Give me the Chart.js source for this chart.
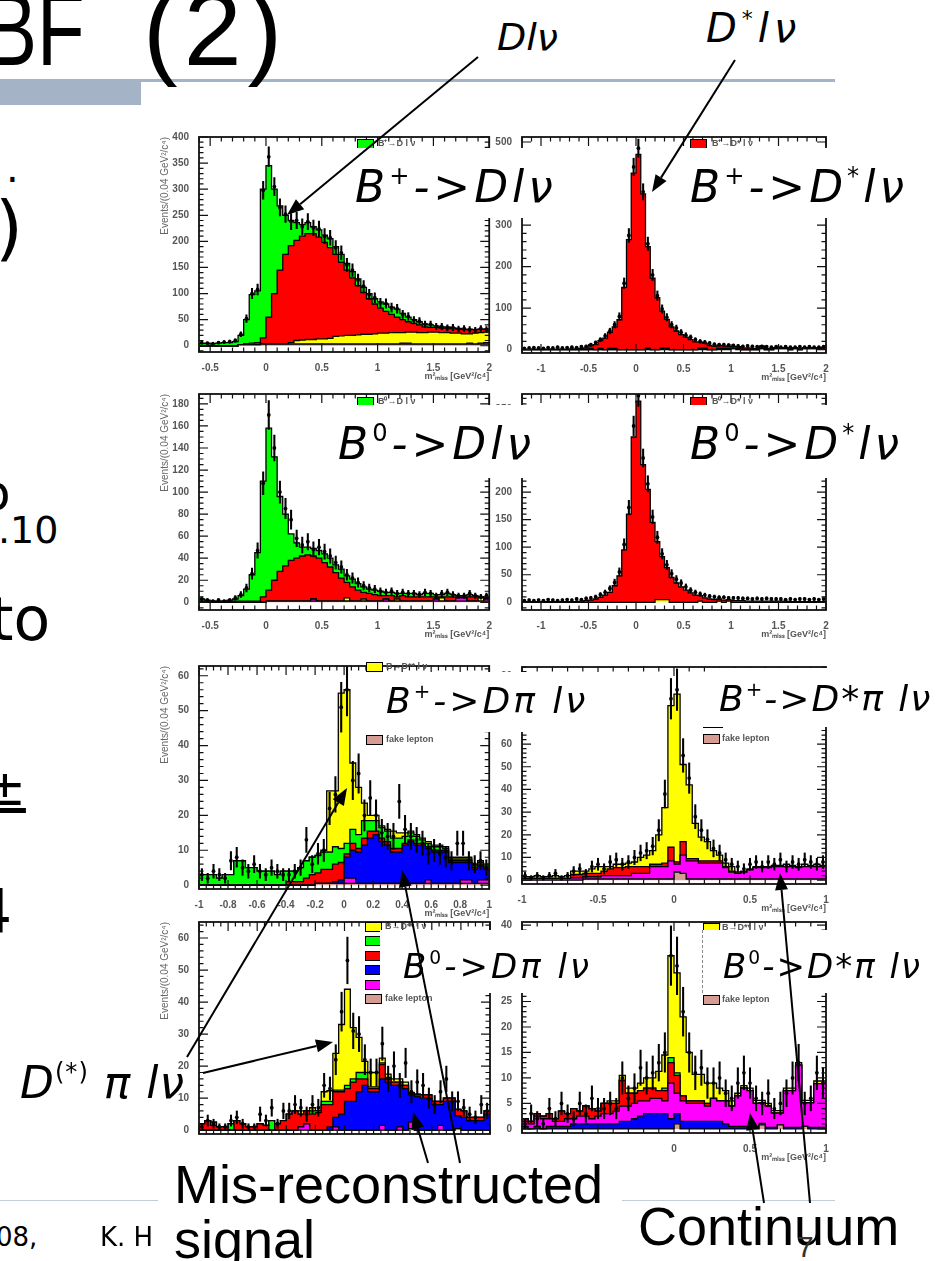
<!DOCTYPE html>
<html><head><meta charset="utf-8"><title>BF (2)</title>
<script src="https://cdn.jsdelivr.net/npm/chart.js@4.4.1/dist/chart.umd.min.js"></script>
<style>
html,body{margin:0;padding:0;background:#fff}
body{width:941px;height:1261px;position:relative;overflow:hidden}
canvas{position:absolute;z-index:1}
.t{position:absolute;white-space:nowrap;line-height:1;color:#000;font-family:"DejaVu Sans",sans-serif;z-index:4}
.box{position:absolute;background:#fff;z-index:3}
.big{position:absolute;white-space:nowrap;line-height:1;font-family:"DejaVu Sans",sans-serif;font-style:italic;color:#000;z-index:4}
.big sup{font-size:55%;font-style:normal;vertical-align:0;position:relative;top:-0.75em;line-height:0}
.sw{position:absolute;width:15px;height:8px;border:1px solid #000;z-index:2}
.lt{position:absolute;font:bold 9px "Liberation Sans",sans-serif;color:#555;white-space:nowrap;line-height:1;z-index:2}
.rule{position:absolute;background:#a4b3c5;z-index:0}
svg{position:absolute;left:0;top:0;z-index:6}
</style></head><body>

<div class="rule" style="left:140px;top:79px;width:695px;height:3px"></div>
<div class="rule" style="left:0;top:79px;width:141px;height:26px"></div>
<div class="rule" style="left:0;top:1200px;width:835px;height:1px;background:#c3ccd8"></div>

<div class="t" style="left:-15px;top:-23px;font-size:104px;font-family:'Liberation Sans';transform:scaleX(0.75);transform-origin:0 0">BF</div>
<div class="t" style="left:143px;top:-23px;font-size:104px;font-family:'Liberation Sans';letter-spacing:6px">(2)</div>

<div class="t" style="left:6px;top:148px;font-size:40px">.</div>
<div class="t" style="left:-5px;top:191px;font-size:72px">)</div>
<div class="t" style="left:-20px;top:468px;font-size:50px">o</div>
<div class="t" style="left:-2px;top:511px;font-size:38px">.10</div>
<div class="t" style="left:-10px;top:589px;font-size:60px">to</div>
<div class="t" style="left:-16px;top:763px;font-size:50px;text-decoration:underline">±</div>
<div class="t" style="left:-26px;top:881px;font-size:60px">4</div>
<div class="t" style="left:-4px;top:1224px;font-size:26px">08,</div>
<div class="t" style="left:100px;top:1224px;font-size:26px">K. H</div>

<div class="big" style="left:497px;top:18px;font-size:38px">Dlν</div>
<div class="big" style="left:706px;top:8px;font-size:40px;letter-spacing:5px">D<sup>*</sup>lν</div>

<script>
// ---------------- data ----------------
// bin centres of m²miss [GeV²/c⁴]
const mAC = binCenters(-0.6, 2.0, 52);   // panels a) c)
const mBD = binCenters(-1.2, 2.0, 64);   // panels b) d)
const mEH = binCenters(-1.0, 1.0, 50);   // panels e) f) g) h)

// a) B+ -> D l nu
const fakeA  = [0,0,0,0,0,0,0,2,2,2, 2,3,3,3,3,3,3,3,3,3, 3,3,3,3,3,3,3,3,3,3, 3,3,3,3,3,3,3,3,3,3, 3,3,3,3,3,3,3,3,3,3, 3,3];
const contA  = [0,0,0,0,0,0,0,0,0,0, 0,0,0,0,0,0,0,0,0,0, 0,0,0,0,0,0,0,0,0,0, 0,0,0,0,0,0,2,2,0,0, 0,0,0,0,0,0,0,0,2,0, 2,3];
const dssA   = [0,0,0,0,0,0,0,0,0,0, 0,0,0,0,0,0,3,7,8,9, 9,10,10,11,15,16,17,17,18,19, 19,20,21,21,22,22,20,21,23,22, 22,23,23,22,22,21,21,20,18,21, 20,20];
const dstarA = [0,0,0,0,0,0,0,0,2,3, 4,12,52,97,142,172,186,192,199,203, 203,195,185,174,157,141,125,110,94,80, 68,57,48,42,35,30,25,20,17,15, 11,9,9,9,9,9,8,8,8,7, 7,6];
const dA     = [4,5,4,5,6,6,8,18,46,93, 99,285,290,200,123,75,48,34,22,21, 13,14,14,17,15,15,13,12,13,10, 10,10,12,14,14,15,12,9,7,6, 6,5,3,2,2,1,1,1,1,0, 0,0];
const dataA  = [6,5,4,6,7,8,10,22,52,100, 108,298,362,305,265,252,238,240,228,238, 226,224,210,207,188,178,155,145,126,114, 98,92,82,81,73,71,60,56,49,47, 41,41,37,37,34,35,32,33,31,30, 33,31];

// b) B+ -> D* l nu
const contB  = [0,0,0,0,0,0,0,0,0,0, 0,0,0,0,0,0,0,0,0,0, 0,0,0,0,0,0,0,0,0,0, 0,0,0,0,0,0,0,0,0,0, 0,0,0,0,3,0,0,0,0,0, 3,0,0,3,3,3,0,3,0,3, 3,3,3,4];
const dssB   = [0,0,0,0,0,0,0,0,0,0, 0,0,0,0,0,0,0,0,0,0, 0,0,0,0,0,0,3,0,0,3, 3,0,0,0,0,0,0,3,3,0, 0,3,3,3,0,3,0,0,0,0, 3,0,0,0,0,0,0,0,0,0, 0,0,0,0];
const dB     = [0,0,0,0,0,0,0,0,0,0, 0,0,0,0,3,0,3,0,3,3, 0,0,0,0,0,0,0,0,0,0, 0,0,0,0,0,0,0,0,0,0, 0,0,0,0,0,0,0,0,0,0, 0,0,0,0,0,0,0,0,0,0, 0,0,0,0];
const dstarB = [1,1,1,1,1,1,1,1,1,1, 2,2,3,4,7,12,19,28,39,52, 72,150,265,425,470,375,245,172,125,90, 70,55,45,36,30,24,19,15,12,10, 8,7,6,5,5,4,4,4,3,3, 3,3,2,2,2,2,2,2,2,2, 2,2,2,2];
const dataB  = [3,4,5,4,3,5,4,6,4,5, 6,5,7,8,12,17,24,33,45,60, 80,160,275,440,485,380,255,180,130,98, 78,60,52,42,35,30,24,20,18,16, 13,12,12,11,10,9,8,9,8,7, 8,7,6,7,6,7,6,6,7,6, 7,6,6,7];

// c) B0 -> D l nu
const fakeC  = [0,0,0,0,0,0,0,0,0,0, 0,0,1,1,1,1,1,1,1,1, 1,1,1,1,1,1,1,1,1,1, 1,1,1,1,1,1,1,1,1,1, 1,1,1,1,1,1,1,1,1,1, 1,1];
const contC  = [0,0,0,0,0,0,0,0,0,0, 0,0,0,0,0,0,0,0,0,0, 2,0,0,0,0,0,0,0,0,0, 0,0,0,2,0,0,0,0,0,0, 0,0,2,0,0,0,3,3,0,0, 0,2];
const dssC   = [0,0,0,0,0,0,0,0,0,0, 0,0,0,0,0,0,0,0,0,0, 0,0,0,0,0,0,3,0,0,2, 0,0,0,0,0,2,0,0,0,0, 0,0,0,3,0,0,0,0,0,0, 3,0];
const dstarC = [1,1,1,1,1,1,1,1,1,1, 1,5,10,19,27,32,37,39,41,42, 39,39,35,31,26,21,14,13,10,6, 7,6,5,3,5,2,5,4,4,4, 4,4,2,1,4,4,1,1,4,4, 1,1];
const dC     = [2,1,0,0,0,1,2,5,11,24, 44,105,147,112,68,47,24,14,8,7, 7,7,8,8,7,8,6,7,6,5, 4,4,4,3,3,3,2,3,3,2, 3,3,2,2,3,2,1,1,2,1, 0,1];
const dataC  = [3,2,1,2,1,2,4,7,13,26, 47,108,170,140,100,85,75,58,52,55, 48,50,46,42,36,32,25,22,18,15, 13,12,10,9,10,8,9,8,8,7, 9,8,6,8,9,7,6,6,8,6, 5,6];

// d) B0 -> D* l nu
const dssD   = [0,0,0,0,0,0,0,0,0,0, 0,0,0,0,0,0,0,0,0,0, 0,0,0,0,0,0,0,0,5,5, 5,0,0,0,0,0,0,2,0,0, 0,2,0,2,0,0,0,0,0,0, 0,0,0,0,0,0,0,0,0,0, 0,0,0,0];
const dstarD = [1,1,1,1,1,1,1,1,1,1, 1,1,2,3,4,6,9,13,18,30, 48,95,160,300,365,250,205,145,105,78, 58,45,35,28,22,17,13,10,8,6, 5,4,4,3,3,3,3,2,2,2, 2,2,2,2,2,2,1,1,1,1, 1,1,1,1];
const dataD  = [3,4,3,4,3,5,4,3,4,5, 4,6,5,7,8,10,14,18,25,36, 55,105,172,320,375,262,215,155,118,88, 68,52,42,35,28,22,18,15,13,11, 10,9,9,8,8,8,7,7,6,7, 6,7,6,6,6,5,6,5,6,6, 5,6,5,6];

// e) B+ -> D pi l nu
const fakeE  = [0,0,0,0,0,0,0,0,0,0, 0,0,0,0,0,0,0,0,0,0, .5,.5,.5,.5,.5,.5,.5,.5,.5,.5, .5,.5,.5,.5,.5,.5,.5,.5,.5,.5, .5,.5,.5,.5,.5,.5,.5,.5,.5,.5];
const contE  = [0,0,0,0,0,0,0,0,0,0, 0,0,0,0,0,0,0,0,0,0, 0,0,0,0,0,1.5,1.5,0,0,0, 0,0,0,0,0,0,0,0,0,1, 0,0,0,0,0,1,1,0,1,1];
const misE   = [0,0,0,0,0,0,0,0,0,0, 0,0,0,0,0,0,0,0,0,0, 0,0,0,.5,1,6,8,9,11,13, 14,12,11,9,9,11,12,11,11,9, 9,9,9,6,6,5,5,4,4,3];
const dstarE = [0,0,0,0,0,0,0,0,0,0, 0,0,0,0,0,1,1,1,2,3, 3,4,4,5,5,1,2,1,2,2, 1,1,1,1,1,.5,.5,.5,.5,.5, .5,.5,.5,.5,.5,.5,.5,.5,.5,.5];
const dE     = [3,3,3,2,3,3,7,7,5,5, 4,4,4,3,4,3,3,4,5,5, 5,5,5,5,4,3,4,4,5,3, 3,3,3,3,3,2,2,2,1,1, 1,1,.5,.5,.5,.5,.5,.5,.5,.5];
const dssE   = [0,0,0,0,0,0,0,0,0,0, 0,0,0,0,0,0,0,0,0,0, 0,.5,17.5,16,44.5,44,19,13.5,5,1.5, 1.5,.5,.5,2,1.5,1,.5,.5,.5,.5, .5,.5,.5,.5,.5,.5,.5,.5,.5,.5];
const dataE  = [3,2,4,3,2,7,8,5,4,6, 4,3,5,4,3,3,4,5,13,6, 9,10,22,26,51,56,30,32,20,25, 20,15,14,14,24,16,14,13,12,9, 10,9,8,7,12,12,7,6,7,5];

// f) B+ -> D* pi l nu
const fakeF  = [0,0,0,0,0,0,0,0,0,0, .5,.5,.5,.5,.5,.5,.5,.5,.5,.5, .5,.5,.5,.5,.5,3.6,3,.5,.5,.5, .5,.5,.5,.5,.5,.5,.5,.5,.5,.5, .5,.5,.5,.5,.5,.5,.5,.5,.5,.5];
const contF  = [.8,.8,.8,.8,.8,.8,.8,.8,1,1, 1,1,1,1.5,1.5,1.5,1.5,1.5,2.5,2.5, 2.5,5.5,5.5,5.5,8,3.5,8,8,8,7, 7,7,7,5,3,2.5,3,4,5,5, 5,5.5,5.5,5.5,5.5,5,5.5,5.5,5.5,5.5];
const dstarF = [0,0,0,0,0,0,0,0,1.5,1.5, 1.5,1.5,1.5,2,3,3.5,3.5,4,3,3, 3,1,1,1.5,6,1,6,1,1,1, 1,1,1,.5,.5,0,0,0,0,0, 0,0,0,0,0,0,0,0,0,0];
const dssF   = [.7,.7,1.2,.7,.7,1.2,.7,1.2,1.5,1.5, 1,2,3,2,1,1.5,1.5,1.5,2,4, 5,6,13,24.5,62.5,73.9,34,32.5,15.5,10.5, 8.5,4.5,2.5,1.5,2,.6,.5,.5,.5,.5, .5,.5,.5,1,.5,.5,1,.5,1,.5];
const dataF  = [2,1,2,1,2,3,1,2,4,5, 3,6,7,5,8,9,7,8,10,12, 13,15,22,38,80,84,55,45,28,22, 18,14,12,9,7,6,5,7,8,6, 8,7,9,6,8,7,9,8,7,8];

// g) B0 -> D pi l nu
const fakeG  = [0,0,0,0,0,0,0,0,0,0, 0,0,0,0,0,0,0,0,0,0, 0,0,0,0,0,0,0,0,0,0, 0,0,0,0,0,0,.5,0,0,0, 0,0,0,0,.5,0,0,0,0,0];
const contG  = [0,0,0,0,0,0,0,0,0,0, 0,0,0,0,0,0,0,1,2,0, 0,0,0,1,0,0,0,0,0,0, 0,1.5,0,0,1,0,2,0,0,0, 0,1.5,0,0,0,0,0,0,0,0];
const misG   = [0,0,0,0,0,0,0,0,0,0, 0,0,0,0,0,0,0,0,0,0, 0,0,1,3,5,9,9,12,14,12, 12,14.5,15,14,13,13,8.5,10.5,10,10, 8,6.5,9,9,4,4,3,3,3,5];
const dstarG = [2,3,1.5,1,1,0,3,2,1,1, 2,1.5,0,2,3,5,6,4,4,5, 5.5,8,7,8,7,4,6,4,2,1, 1,4.5,1,1,1,1,.5,.5,1,1, 1,1,1,1,2,2,1,1,1,1];
const dG     = [0,0,1,0,0,2,0,0,0,0, 0,0,3,0,0,0,0,0,0,1, .5,1,1,.5,.5,1,1,2,2,.5, .5,.5,.5,0,0,0,0,0,0,0, 0,0,0,0,0,0,0,0,0,0];
const dssG   = [0,0,0,0,0,0,0,0,0,0, 0,0,0,0,0,0,0,1,0,1, 0,3,3.3,11.5,20.5,30,16,11,3.5,4.5, 4.5,1.5,1,1,1,1,.3,.3,0,0, 0,0,0,0,0,0,0,0,0,0];
const dataG  = [1,3,2,1,1,3,4,2,1,1, 5,3,7,2,6,6,8,7,5,8, 7,14,13,22,37,53,31,30,22,18, 18,27,16,20,14,21,12,15,14,10, 8,12,16,9,9,7,5,4,8,6];

// h) B0 -> D* pi l nu
const fakeH  = [0,0,0,0,0,0,0,0,0,0, 0,0,0,0,0,0,0,0,0,0, 0,0,0,0,0,1,0,0,0,0, 0,0,0,0,0,0,0,0,0,.8, 0,0,.8,0,0,0,.5,0,0,0];
const misH   = [.5,0,.5,0,.5,.5,.5,.5,1,1, 1,1,1,1,1,1,1.5,1.5,2,2.5, 3,3,3,3,2,2,1.5,1.5,1.5,1.5, 1.5,1.5,1.5,1,.5,.5,.5,.5,.5,.3, .3,.3,0,.3,.3,.3,0,.3,.3,.3];
const contH  = [1,1,2,2,1.5,1,1,1.5,1,1.5, 1.5,1,1.5,2,2,2.5,3,3,3,3, 2.5,3,3,2.5,7,4,4,3.5,3.5,3.5, 3,4.5,4,4.5,4,6,7.5,7,4.5,4, 4.2,2.8,2.3,7.2,7.2,12.2,4.6,4.8,8.6,8.6];
const dstarH = [.5,.5,.5,.5,1,.5,2,1,2,1, 2,2,1,2,2,1.5,5,2.5,2,2, 2.5,2,1.5,2,4,3.5,1,.5,.5,.5, .5,0,0,0,0,0,0,0,0,0, 0,0,0,0,0,0,0,0,0,0];
const dH     = [0,0,0,0,0,0,0,0,0,0, 0,0,0,0,0,0,0,0,0,0, 0,0,0,.5,1,.5,0,0,0,0, 0,0,0,0,0,0,0,0,0,0, 0,0,0,0,0,0,0,0,0,0];
const dssH   = [0,0,0,0,0,0,0,0,0,0, 0,0,0,0,.5,.5,1,1,1,1.5, 2,2,3.8,6.5,20,19.6,15.5,9.5,5.2,5.2, 4,3,2.5,2,1,.5,.5,.5,.6,.5, .5,.5,.5,.5,.5,.5,.5,.5,.5,.5];
const dataH  = [1,3,2,1,4,2,5,3,2,5, 3,6,4,4,5,4,10,6,8,12, 10,11,13,15,34,32,23,15,11,12, 9,9,10,7,6,9,11,9,6,5, 7,4,5,7,10,13,5,6,11,9];

// axis tick steps
const xTicksAC = 0.5, xTicksBD = 0.5, xTicksEG = 0.2, xTicksFH = 0.5;
const yTicks = {a:50, b:100, c:20, d:50, e:10, f:10, g:10, h:5};

// ---------------- helpers ----------------
function binCenters(lo, hi, n){ const w=(hi-lo)/n; const out=[]; for(let i=0;i<n;i++) out.push(+(lo+w*(i+0.5)).toFixed(4)); return out; }
const fmt = v => String(+(+v).toFixed(3));

const COL = {green:'#00ff00', red:'#ff0000', yellow:'#ffff00', blue:'#0000ff', magenta:'#ff00ff', fake:'#d49c92'};

const rootFrame = {
  id:'rootFrame',
  afterDraw(chart, args, opts){
    const {ctx, chartArea:a, scales:{x, y}} = chart;
    ctx.save();
    ctx.strokeStyle = '#111';
    ctx.lineWidth = 1.2;
    const ticksOn = (scale, horiz, div) => {
      const vals = scale.ticks.map(t => t.value);
      const step = vals.length > 1 ? vals[1] - vals[0] : (scale.max - scale.min);
      const minor = step / div;
      const k0 = Math.ceil(scale.min / minor - 1e-6);
      for (let k = k0; k * minor <= scale.max + 1e-9; k++) {
        const v = k * minor;
        const r = v / step;
        const major = Math.abs(r - Math.round(r)) < 1e-6;
        const len = major ? 9 : 4.5;
        const p = scale.getPixelForValue(v);
        ctx.beginPath();
        if (horiz) {
          ctx.moveTo(p, a.bottom); ctx.lineTo(p, a.bottom - len);
          ctx.moveTo(p, a.top); ctx.lineTo(p, a.top + len);
        } else {
          ctx.moveTo(a.left, p); ctx.lineTo(a.left + len, p);
          ctx.moveTo(a.right, p); ctx.lineTo(a.right - len, p);
        }
        ctx.stroke();
      }
    };
    ticksOn(x, true, opts.xMinor || 5);
    ticksOn(y, false, opts.yMinor || 5);
    ctx.lineWidth = 1.8;
    ctx.strokeRect(a.left, a.top, a.right - a.left, a.bottom - a.top);
    ctx.restore();
  }
};

function makePanel(P){
  const cv = document.createElement('canvas');
  const W = P.axisW + P.fw + P.padR, H = 4 + P.fh + 30;
  cv.width = W; cv.height = H;
  cv.style.left = (P.fl - P.axisW) + 'px';
  cv.style.top = (P.ft - 4) + 'px';
  cv.style.width = W + 'px'; cv.style.height = H + 'px';
  document.body.appendChild(cv);
  const [lo, hi] = P.xr;
  const cs = P.bins;
  const ds = [];
  P.comps.forEach((c, k) => {
    const vals = c[0];
    const pts = [{x:lo, y:vals[0]}];
    cs.forEach((m, i) => pts.push({x:m, y:vals[i]}));
    pts.push({x:hi, y:vals[vals.length-1]});
    ds.push({type:'line', data:pts, stepped:'middle', fill: k === 0 ? 'origin' : '-1',
      backgroundColor: COL[c[1]], borderColor:'#000', borderWidth:1.3, pointRadius:0,
      stack:'mc', order:0, tension:0});
  });
  ds.push({type:'line', data: cs.map((m,i)=>({x:m, y:P.data[i]})), showLine:false, fill:false,
    pointRadius:1.9, pointBackgroundColor:'#000', pointBorderColor:'#000', pointBorderWidth:0,
    stack:'pts', order:-2});
  ds.push({type:'bar', data: cs.map((m,i)=>({x:m, y:[P.data[i]-Math.sqrt(P.data[i]), P.data[i]+Math.sqrt(P.data[i])]})),
    backgroundColor:'#000', borderWidth:0, barThickness:1.4, stack:'err', order:-1});
  const tickFont = {family:'Liberation Sans', size:10, weight:'bold'};
  new Chart(cv, {
    type:'line',
    data:{datasets:ds},
    options:{
      responsive:false, animation:false, events:[],
      layout:{padding:{top:4, right:P.padR, left:0, bottom:0}},
      plugins:{legend:{display:false}, tooltip:{enabled:false}, rootFrame:{xMinor:P.xMinor, yMinor:P.yMinor}},
      scales:{
        x:{type:'linear', min:lo, max:hi, offset:false, grid:{display:false}, border:{display:false},
           ticks:{stepSize:P.xStep, includeBounds:false, display:P.xLabels, autoSkip:false, maxRotation:0, font:tickFont, color:'#555', padding:2, callback:fmt},
           title:{display:P.xLabels, text:'m²ₘᵢₛₛ [GeV²/c⁴]', align:'end', font:{family:'Liberation Sans', size:9, weight:'bold'}, color:'#555', padding:{top:0, bottom:0}},
           afterFit(s){ s.height = 30; }},
        y:{type:'linear', min:P.yr[0], max:P.yr[1], stacked:true, grid:{display:false}, border:{display:false},
           ticks:{stepSize:P.yStep, includeBounds:false, font:tickFont, color:'#555', padding:2, callback:fmt},
           title:{display:P.yTitle, text:'Events/(0.04 GeV²/c⁴)', align:'end', font:{family:'Liberation Sans', size:10}, color:'#666', padding:{top:0, bottom:1}},
           afterFit(s){ s.width = P.axisW; }}
      }
    },
    plugins:[rootFrame]
  });
}

const panels = [
  {fl:199, ft:133, fw:291, fh:219, axisW:40, padR:4, xr:[-0.6,2.0], bins:mAC, xStep:xTicksAC, xMinor:5, yr:[-12,400], yStep:yTicks.a, yMinor:5, yTitle:true, xLabels:true,
   comps:[[fakeA,'fake'],[contA,'magenta'],[dssA,'yellow'],[dstarA,'red'],[dA,'green']], data:dataA},
  {fl:522, ft:133, fw:304, fh:220, axisW:32, padR:6, xr:[-1.2,2.0], bins:mBD, xStep:xTicksBD, xMinor:5, yr:[-8,512], yStep:yTicks.b, yMinor:5, yTitle:false, xLabels:true,
   comps:[[contB,'magenta'],[dssB,'yellow'],[dB,'green'],[dstarB,'red']], data:dataB},
  {fl:199, ft:390, fw:291, fh:220, axisW:40, padR:4, xr:[-0.6,2.0], bins:mAC, xStep:xTicksAC, xMinor:5, yr:[-7,189], yStep:yTicks.c, yMinor:4, yTitle:true, xLabels:true,
   comps:[[fakeC,'fake'],[contC,'magenta'],[dssC,'yellow'],[dstarC,'red'],[dC,'green']], data:dataC},
  {fl:522, ft:390, fw:304, fh:220, axisW:32, padR:6, xr:[-1.2,2.0], bins:mBD, xStep:xTicksBD, xMinor:5, yr:[-14,378], yStep:yTicks.d, yMinor:5, yTitle:false, xLabels:true,
   comps:[[dssD,'yellow'],[dstarD,'red']], data:dataD},
  {fl:199, ft:662, fw:291, fh:227, axisW:40, padR:4, xr:[-1,1], bins:mEH, xStep:xTicksEG, xMinor:4, yr:[-1.1,62.8], yStep:yTicks.e, yMinor:5, yTitle:true, xLabels:true,
   comps:[[fakeE,'fake'],[contE,'magenta'],[misE,'blue'],[dstarE,'red'],[dE,'green'],[dssE,'yellow']], data:dataE},
  {fl:522, ft:663, fw:304, fh:221, axisW:32, padR:6, xr:[-1,1], bins:mEH, xStep:xTicksFH, xMinor:5, yr:[-1.7,94], yStep:yTicks.f, yMinor:5, yTitle:false, xLabels:true,
   comps:[[fakeF,'fake'],[contF,'magenta'],[dstarF,'red'],[dssF,'yellow']], data:dataF},
  {fl:199, ft:918, fw:291, fh:216, axisW:40, padR:4, xr:[-1,1], bins:mEH, xStep:xTicksEG, xMinor:4, yr:[-1.2,65], yStep:yTicks.g, yMinor:5, yTitle:true, xLabels:false,
   comps:[[fakeG,'fake'],[contG,'magenta'],[misG,'blue'],[dstarG,'red'],[dG,'green'],[dssG,'yellow']], data:dataG},
  {fl:522, ft:918, fw:304, fh:215, axisW:32, padR:6, xr:[-1,1], bins:mEH, xStep:xTicksFH, xMinor:5, yr:[-0.8,40.6], yStep:yTicks.h, yMinor:5, yTitle:false, xLabels:true,
   comps:[[fakeH,'fake'],[misH,'blue'],[contH,'magenta'],[dstarH,'red'],[dH,'green'],[dssH,'yellow']], data:dataH}
];
panels.forEach(makePanel);
</script>

<!-- legend remnants -->
<div class="sw" style="left:357px;top:139px;background:#00ff00"></div><div class="lt" style="left:378px;top:139px">B⁺→D l ν</div>
<div class="sw" style="left:690px;top:139px;background:#ff0000"></div><div class="lt" style="left:712px;top:139px">B⁺→D* l ν</div>
<div class="sw" style="left:357px;top:397px;background:#00ff00"></div><div class="lt" style="left:378px;top:397px">B⁰→D l ν</div>
<div class="sw" style="left:690px;top:397px;background:#ff0000"></div><div class="lt" style="left:712px;top:397px">B⁰→D* l ν</div>

<div class="sw" style="left:366px;top:662px;background:#ffff00"></div><div class="lt" style="left:386px;top:662px">B→D** l ν</div>
<div class="sw" style="left:366px;top:735px;background:#d49c92"></div><div class="lt" style="left:386px;top:735px">fake lepton</div>
<div style="position:absolute;left:703px;top:727px;width:20px;height:1px;background:#000;z-index:2"></div>
<div class="sw" style="left:703px;top:734px;background:#d49c92"></div><div class="lt" style="left:722px;top:734px">fake lepton</div>

<div class="sw" style="left:365px;top:922px;background:#ffff00"></div>
<div class="sw" style="left:365px;top:936px;background:#00ff00"></div>
<div class="sw" style="left:365px;top:951px;background:#ff0000"></div>
<div class="sw" style="left:365px;top:965px;background:#0000ff"></div>
<div class="sw" style="left:365px;top:980px;background:#ff00ff"></div>
<div class="sw" style="left:365px;top:994px;background:#d49c92"></div><div class="lt" style="left:385px;top:994px">fake lepton</div>
<div class="lt" style="left:385px;top:922px">B→D** l ν</div>

<div class="sw" style="left:703px;top:923px;background:#ffff00"></div><div class="lt" style="left:722px;top:923px">B→D** l ν</div>
<div class="sw" style="left:703px;top:995px;background:#d49c92"></div><div class="lt" style="left:722px;top:995px">fake lepton</div>

<!-- white label boxes -->
<div class="box" style="left:350px;top:148px;width:250px;height:70px"></div>
<div class="box" style="left:665px;top:148px;width:276px;height:70px"></div>
<div class="box" style="left:335px;top:405px;width:265px;height:73px"></div>
<div class="box" style="left:665px;top:405px;width:276px;height:73px"></div>
<div class="box" style="left:352px;top:672px;width:298px;height:60px"></div>
<div class="box" style="left:712px;top:668px;width:229px;height:59px"></div>
<div class="box" style="left:380px;top:930px;width:280px;height:63px"></div>
<div class="box" style="left:702px;top:930px;width:239px;height:63px;border-left:1px dashed #888"></div>
<div class="box" style="left:158px;top:1137px;width:464px;height:124px"></div>
<div class="box" style="left:628px;top:1203px;width:313px;height:58px"></div>

<div class="big" style="left:355px;top:165px;font-size:44px;letter-spacing:4px">B<sup>+</sup>-&gt;Dlν</div>
<div class="big" style="left:690px;top:165px;font-size:44px;letter-spacing:4px">B<sup>+</sup>-&gt;D<sup>*</sup>lν</div>
<div class="big" style="left:338px;top:422px;font-size:44px;letter-spacing:4px">B<sup>0</sup>-&gt;Dlν</div>
<div class="big" style="left:690px;top:422px;font-size:44px;letter-spacing:4px">B<sup>0</sup>-&gt;D<sup>*</sup>lν</div>
<div class="big" style="left:386px;top:683px;font-size:36px;letter-spacing:3px">B<sup>+</sup>-&gt;Dπ lν</div>
<div class="big" style="left:719px;top:681px;font-size:36px;letter-spacing:2px">B<sup>+</sup>-&gt;D*π lν</div>
<div class="big" style="left:403px;top:949px;font-size:34px;letter-spacing:3px">B<sup>0</sup>-&gt;Dπ lν</div>
<div class="big" style="left:723px;top:949px;font-size:34px;letter-spacing:2px">B<sup>0</sup>-&gt;D*π lν</div>
<div class="big" style="left:20px;top:1061px;font-size:44px;letter-spacing:1px">D<sup>(*)</sup> π lν</div>

<div class="t" style="left:174px;top:1157px;font-size:54px;font-family:'Liberation Sans'">Mis-reconstructed</div>
<div class="t" style="left:174px;top:1212px;font-size:54px;font-family:'Liberation Sans'">signal</div>
<div class="t" style="left:638px;top:1199px;font-size:54px;font-family:'Liberation Sans'">Continuum</div>
<div class="t" style="left:797px;top:1232px;font-size:30px;font-family:'Liberation Sans';color:#333;z-index:5">7</div>

<svg width="941" height="1261" id="arr"></svg>
<script>
const arrows = [
  [478,57,287,215],[735,60,652,192],[203,1073,333,1042],[187,1057,347,788],
  [460,1163,402,870],[428,1163,413,1112],[764,1203,750,1113],[810,1203,780,873]
];
const svg = document.getElementById('arr');
const NS = 'http://www.w3.org/2000/svg';
arrows.forEach(([x1,y1,x2,y2])=>{
  const dx=x2-x1, dy=y2-y1, L=Math.hypot(dx,dy), ux=dx/L, uy=dy/L;
  const hl=17, hw=6.5;
  const bx=x2-ux*hl, by=y2-uy*hl;
  const ln=document.createElementNS(NS,'line');
  ln.setAttribute('x1',x1); ln.setAttribute('y1',y1); ln.setAttribute('x2',bx); ln.setAttribute('y2',by);
  ln.setAttribute('stroke','#000'); ln.setAttribute('stroke-width','2');
  svg.appendChild(ln);
  const pg=document.createElementNS(NS,'polygon');
  pg.setAttribute('points',`${x2},${y2} ${bx-uy*hw},${by+ux*hw} ${bx+uy*hw},${by-ux*hw}`);
  pg.setAttribute('fill','#000');
  svg.appendChild(pg);
});
</script>
</body></html>
